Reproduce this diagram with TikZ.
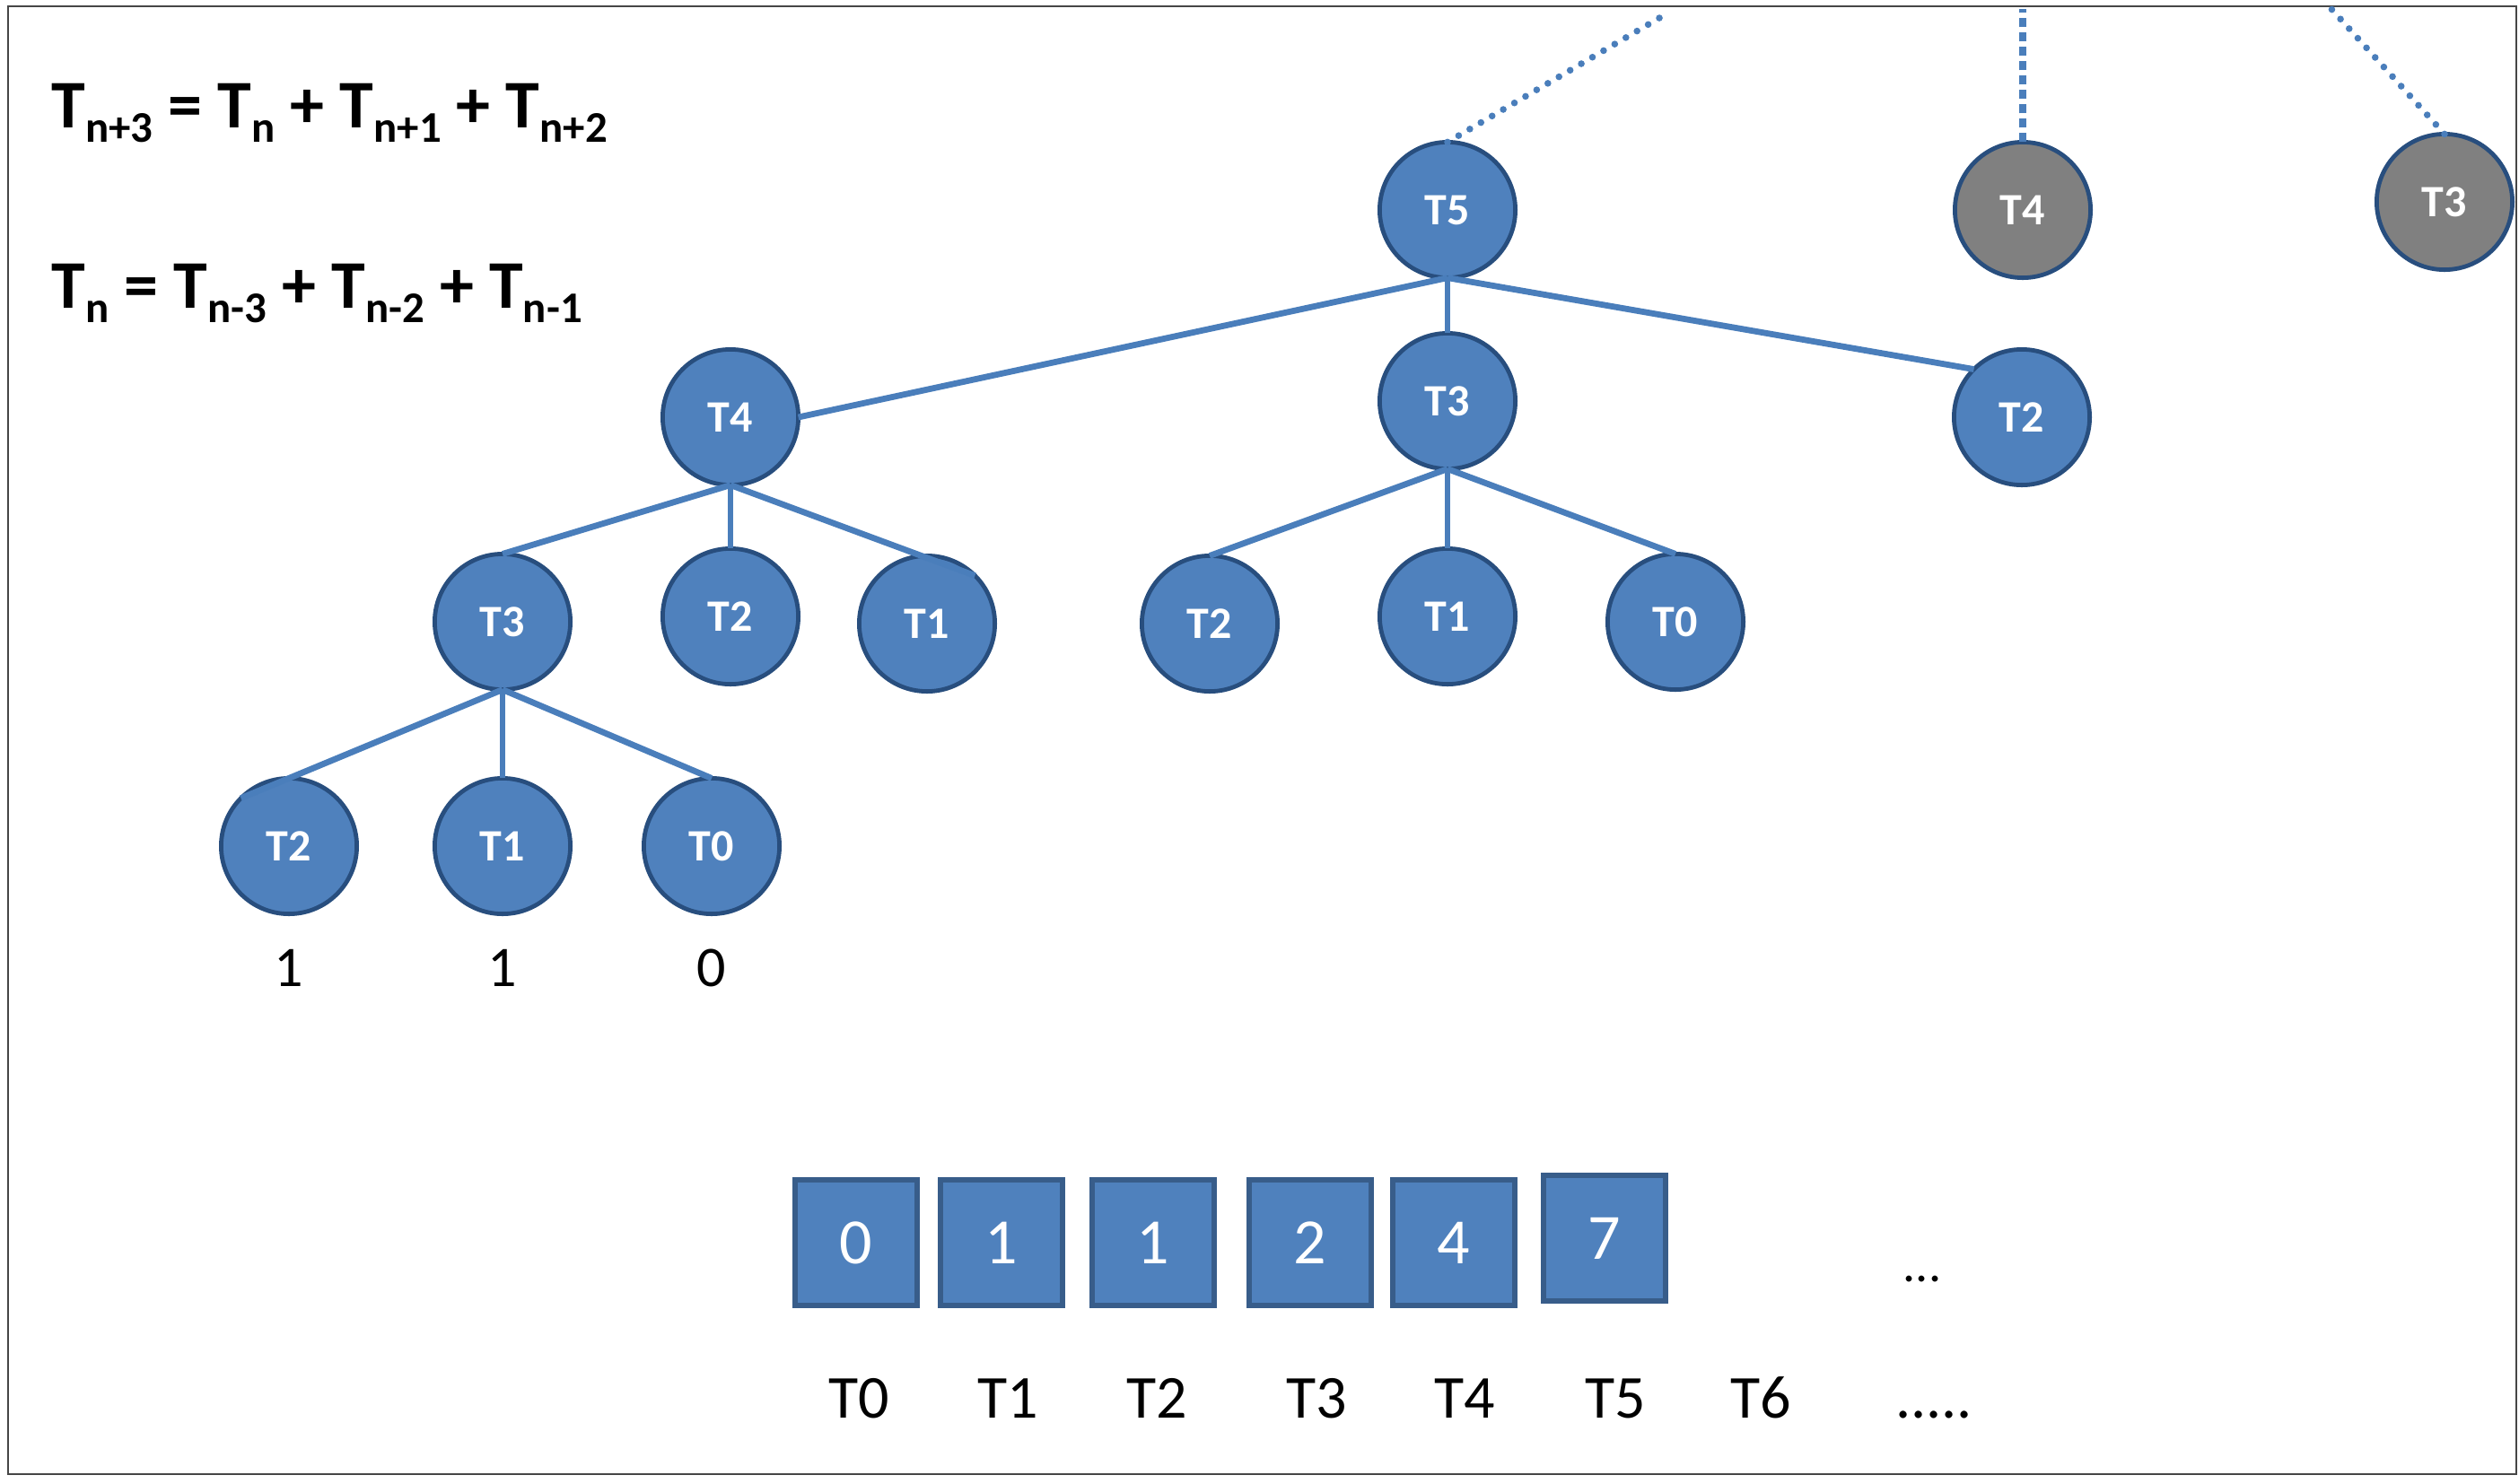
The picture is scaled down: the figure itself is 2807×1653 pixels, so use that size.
\documentclass[tikz,border=0pt]{standalone}
\usepackage{fontspec}
\setmainfont{Carlito}
\definecolor{nodefill}{RGB}{79,129,189}
\definecolor{nodeline}{RGB}{40,78,126}
\definecolor{boxline}{RGB}{56,93,138}
\definecolor{edgecol}{RGB}{74,126,187}
\definecolor{grayfill}{RGB}{128,128,128}
\definecolor{framecol}{RGB}{70,70,70}
\newcommand\tsub[1]{\raisebox{-4pt}{\fontsize{12.2}{12.2}\selectfont #1}}
\begin{document}
\begin{tikzpicture}[x=0.25pt,y=-0.25pt,
 tnode/.style={circle, draw=nodeline, line width=1.2pt, fill=nodefill, minimum size=37.8pt, inner sep=0pt, outer sep=0pt, text=white, font=\bfseries\fontsize{12.5}{12.5}\selectfont},
 gnode/.style={tnode, fill=grayfill},
 edge/.style={draw=edgecol, line width=1.7pt},
 dotline/.style={draw=edgecol, line width=1.9pt, line cap=round, dash pattern=on 0pt off 3.6pt},
 dashline/.style={draw=edgecol, line width=1.9pt, dash pattern=on 2.5pt off 1.5pt},
 valbox/.style={rectangle, draw=boxline, line width=1.6pt, fill=nodefill, minimum width=33.9pt, minimum height=34.9pt, inner sep=0pt, text=white, font=\fontsize{18}{18}\selectfont},
 idx/.style={font=\fontsize{17}{17}\selectfont, anchor=base, inner sep=0pt},
 leafval/.style={font=\fontsize{16}{16}\selectfont, inner sep=0pt},
 formula/.style={anchor=base west, inner sep=0pt, font=\bfseries\fontsize{19}{19}\selectfont}
]
\useasboundingbox (0,0) rectangle (2807,1653);
\draw[framecol, line width=0.7pt] (9,7) rectangle (2804,1643);

% formulas
\node[formula] (f1) at (57,142) {T\tsub{n+3} = T\tsub{n} + T\tsub{n+1} + T\tsub{n+2}};
\node[formula] (f2) at (57,343) {T\tsub{n} = T\tsub{n-3} + T\tsub{n-2} + T\tsub{n-1}};

% tree nodes
\node[tnode] (t5) at (1613,234) {T5};
\node[gnode] (g4) at (2254,234) {T4};
\node[gnode] (g3) at (2724,225) {T3};
\node[tnode] (a4) at (814,465) {T4};
\node[tnode] (a3) at (1613,447) {T3};
\node[tnode] (a2) at (2253,465) {T2};
\node[tnode] (b3) at (560,693) {T3};
\node[tnode] (b2) at (814,687) {T2};
\node[tnode] (b1) at (1033,695) {T1};
\node[tnode] (c2) at (1348,695) {T2};
\node[tnode] (c1) at (1613,687) {T1};
\node[tnode] (c0) at (1867,693) {T0};
\node[tnode] (d2) at (322,943) {T2};
\node[tnode] (d1) at (560,943) {T1};
\node[tnode] (d0) at (793,943) {T0};

% edges
\draw[edge] (t5.south) -- (a4.east);
\draw[edge] (t5.south) -- (a3.north);
\draw[edge] (t5.south) -- (a2.north west);
\draw[edge] (a4.south) -- (b3.north);
\draw[edge] (a4.south) -- (b2.north);
\draw[edge] (a4.south) -- (b1.north east);
\draw[edge] (a3.south) -- (c2.north);
\draw[edge] (a3.south) -- (c1.north);
\draw[edge] (a3.south) -- (c0.north);
\draw[edge] (b3.south) -- (d2.north west);
\draw[edge] (b3.south) -- (d1.north);
\draw[edge] (b3.south) -- (d0.north);

% dotted lines to the top
\coordinate (u5) at (1861,13);
\coordinate (u4) at (2254,10);
\coordinate (u3) at (2597,9);
\draw[dotline] (t5.north) -- (u5);
\draw[dashline] (g4.north) -- (u4);
\draw[dotline] (g3.north) -- (u3);

% leaf values
\node[leafval] (v2) at (322,1079) {1};
\node[leafval] (v1) at (560,1079) {1};
\node[leafval] (v0) at (793,1079) {0};

% array boxes
\node[valbox] (k0) at (954,1385) {0};
\node[valbox] (k1) at (1116,1385) {1};
\node[valbox] (k2) at (1285,1385) {1};
\node[valbox] (k3) at (1460,1385) {2};
\node[valbox] (k4) at (1620,1385) {4};
\node[valbox] (k5) at (1788,1380) {7};
\node[font=\fontsize{14}{14}\selectfont, anchor=base, inner sep=0pt] (kd) at (2142,1428) {...};

% index labels
\node[idx] (i0) at (957,1580) {T0};
\node[idx] (i1) at (1123,1580) {T1};
\node[idx] (i2) at (1289,1580) {T2};
\node[idx] (i3) at (1467,1580) {T3};
\node[idx] (i4) at (1632,1580) {T4};
\node[idx] (i5) at (1800,1580) {T5};
\node[idx] (i6) at (1962,1580) {T6};
\node[idx] (id) at (2155,1580) {.....};
\end{tikzpicture}
\end{document}
